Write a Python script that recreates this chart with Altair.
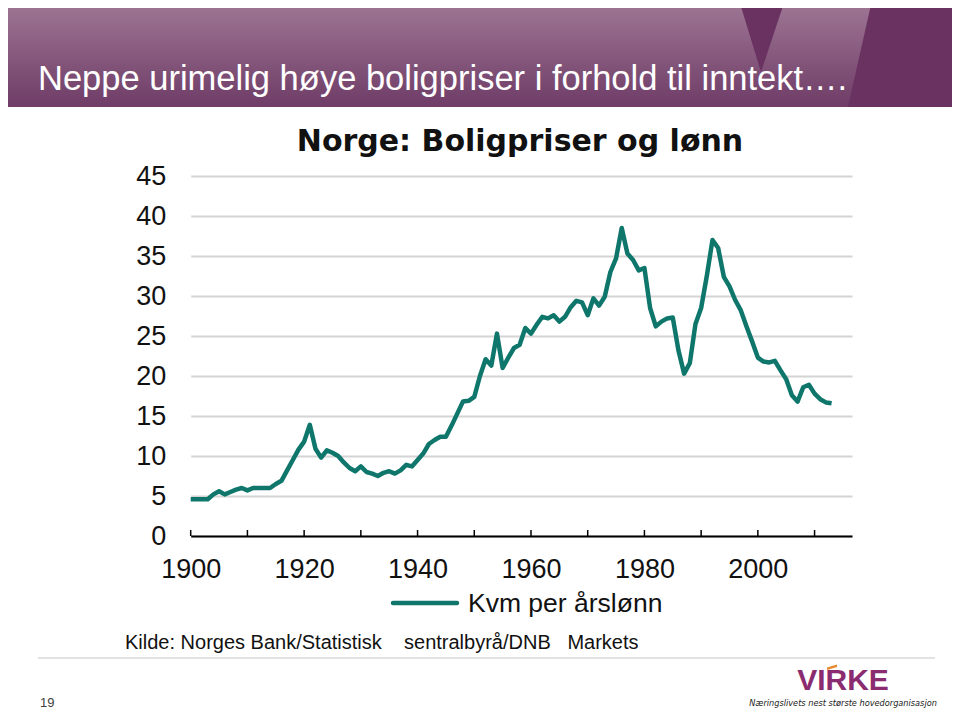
import altair as alt
import pandas as pd

# ---- data ----
years = list(range(1900, 2014))
kvm_per_arslonn = [
    4.6, 4.6, 4.6, 4.6, 5.2, 5.6, 5.2, 5.5, 5.8, 6.0,      # 1900-1909
    5.7, 6.0, 6.0, 6.0, 6.0, 6.5, 6.9, 8.2, 9.5, 10.8,     # 1910-1919
    11.8, 13.9, 10.9, 9.8, 10.7, 10.4, 10.0, 9.2, 8.5, 8.1, # 1920-1929
    8.7, 8.0, 7.8, 7.5, 7.9, 8.1, 7.8, 8.2, 8.9, 8.7,      # 1930-1939
    9.5, 10.3, 11.5, 12.0, 12.4, 12.4, 13.8, 15.3, 16.8, 16.9,  # 1940-1949
    17.4, 20.0, 22.1, 21.3, 25.3, 21.0, 22.3, 23.5, 23.9, 26.0, # 1950-1959
    25.3, 26.4, 27.4, 27.2, 27.6, 26.8, 27.4, 28.6, 29.4, 29.2, # 1960-1969
    27.6, 29.7, 28.8, 29.9, 33.0, 34.7, 38.5, 35.3, 34.5, 33.2, # 1970-1979
    33.5, 28.5, 26.2, 26.8, 27.2, 27.3, 23.2, 20.3, 21.6, 26.5, # 1980-1989
    28.5, 32.5, 37.0, 36.0, 32.4, 31.2, 29.5, 28.2, 26.2, 24.3, # 1990-1999
    22.3, 21.8, 21.7, 21.9, 20.7, 19.6, 17.6, 16.8, 18.6, 18.9, # 2000-2009
    17.8, 17.1, 16.7, 16.6,                                     # 2010-2013
]
x_label_years = [1900, 1920, 1940, 1960, 1980, 2000]
x_tick_years = list(range(1900, 2011, 10))
y_ticks = [0, 5, 10, 15, 20, 25, 30, 35, 40, 45]

slide_title = "Neppe urimelig høye boligpriser i forhold til inntekt…."
chart_title = "Norge: Boligpriser og lønn"
series_name = "Kvm per årslønn"
source_text = "Kilde: Norges Bank/Statistisk\u00a0\u00a0\u00a0 sentralbyrå/DNB\u00a0\u00a0 Markets"
page_number = "19"
logo_text = "VIRKE"
logo_tagline = "Næringslivets nest største hovedorganisasjon"

TEAL = "#0f766c"
FONT = "Liberation Sans"

# plot area geometry (inside a 944x701 chart drawn at page offset 8,8)
PL, PT, PW, PH = 182.7, 168, 661.3, 360


def px(x):  # page x -> plot coords
    return x - (PL + 8)


def py(y):  # page y -> plot coords
    return y - (PT + 8)


df = pd.DataFrame({"year": years, "value": kvm_per_arslonn})
one = pd.DataFrame({"k": [0]})

xscale = alt.Scale(domain=[1900, 2016.6], nice=False, zero=False)
yscale = alt.Scale(domain=[0, 45], nice=False)

line = alt.Chart(df).mark_line(color=TEAL, strokeWidth=4.5, strokeJoin="round").encode(
    x=alt.X("year:Q", scale=xscale,
            axis=alt.Axis(values=x_label_years, format="d", title=None, grid=False,
                          ticks=False, tickSize=0, labelPadding=20, labelFontSize=27,
                          labelFont=FONT, labelColor="#111111", domainColor="#000000",
                          domainWidth=2, zindex=1, labelBaseline="top",
                          labelFlush=False, labelOverlap=False)),
    y=alt.Y("value:Q", scale=yscale,
            axis=alt.Axis(values=y_ticks, title=None, grid=True, gridColor="#d4d4d4",
                          gridWidth=2, domain=False, ticks=False, tickSize=0,
                          labelPadding=25, labelFontSize=27, labelFont=FONT,
                          labelColor="#111111", labelFlush=False, labelOverlap=False)),
)

ticks = alt.Chart(pd.DataFrame({"year": x_tick_years})).mark_rule(
    color="#000000", strokeWidth=1.5
).encode(x=alt.X("year:Q", scale=xscale), y=alt.value(PH), y2=alt.value(PH - 6))

# slide banner
banner = alt.Chart(one).mark_rect(
    color=alt.Gradient(gradient="linear",
                       stops=[alt.GradientStop(color="#9f7895", offset=0),
                              alt.GradientStop(color="#6f3c67", offset=1)],
                       x1=0, x2=0, y1=0, y2=1)
).encode(x=alt.value(px(0)), x2=alt.value(px(960)), y=alt.value(py(0)), y2=alt.value(py(107)))

wedge = alt.Chart(one).mark_point(
    shape="M-0.639,-1 L0.639,-1 L-0.028,1 Z", filled=True, opacity=1, color="#6a3261",
    size=72 * 72, strokeWidth=0
).encode(x=alt.value(px(762)), y=alt.value(py(36)))

right_dark = alt.Chart(one).mark_point(
    shape="M-0.571,-0.955 L1,-0.955 L1,0.955 L-1,0.955 Z", filled=True, opacity=1,
    color="#6a3261", size=112 * 112, strokeWidth=0
).encode(x=alt.value(px(904)), y=alt.value(py(53.5)))

title_txt = alt.Chart(one).mark_text(
    text=slide_title, font=FONT, fontSize=34.5, color="#ffffff",
    align="left", baseline="alphabetic"
).encode(x=alt.value(px(38)), y=alt.value(py(90)))

chart_title_txt = alt.Chart(one).mark_text(
    text=chart_title, font="DejaVu Sans", fontWeight="bold", fontSize=30, color="#111111",
    align="center", baseline="alphabetic"
).encode(x=alt.value(px(520)), y=alt.value(py(151)))

legend_line = alt.Chart(one).mark_rule(color=TEAL, strokeWidth=4.5, strokeCap="round").encode(
    x=alt.value(px(393)), x2=alt.value(px(457)), y=alt.value(py(603)))

legend_txt = alt.Chart(one).mark_text(
    text=series_name, font=FONT, fontSize=26.5, color="#111111", align="left",
    baseline="alphabetic"
).encode(x=alt.value(px(468)), y=alt.value(py(612)))

source_txt = alt.Chart(one).mark_text(
    text=source_text, font=FONT, fontSize=20, color="#111111", align="left",
    baseline="alphabetic"
).encode(x=alt.value(px(125)), y=alt.value(py(649)))

footer_line = alt.Chart(one).mark_rule(color="#d9d9d9", strokeWidth=1.5).encode(
    x=alt.value(px(38)), x2=alt.value(px(935)), y=alt.value(py(658)))

page_txt = alt.Chart(one).mark_text(
    text=page_number, font=FONT, fontSize=13, color="#404040", align="left",
    baseline="middle"
).encode(x=alt.value(px(40)), y=alt.value(py(703)))

logo_txt = alt.Chart(one).mark_text(
    text=logo_text, font=FONT, fontWeight="bold", fontSize=30, color="#8a2c6f",
    align="center", baseline="alphabetic"
).encode(x=alt.value(px(843)), y=alt.value(py(690)))

logo_dot = alt.Chart(one).mark_point(
    shape="M-1,0.3 L1,-0.3 L1,0.2 L-1,0.8 Z", filled=True, opacity=1, color="#e8892b",
    size=100, strokeWidth=0
).encode(x=alt.value(px(832)), y=alt.value(py(666)))

tagline_txt = alt.Chart(one).mark_text(
    text=logo_tagline, font="DejaVu Sans", fontStyle="italic", fontSize=8.2,
    color="#222222", align="center", baseline="middle"
).encode(x=alt.value(px(843)), y=alt.value(py(704)))

tagline_swoosh = alt.Chart(one).mark_rule(color="#8a2c6f", strokeWidth=1.5).encode(
    x=alt.value(px(815)), x2=alt.value(px(858)), y=alt.value(py(711)))

chart = alt.layer(
    banner, wedge, right_dark, title_txt, line, ticks, chart_title_txt, legend_line,
    legend_txt, source_txt, footer_line, page_txt, logo_txt, logo_dot, tagline_txt,
    tagline_swoosh
).properties(
    width=PW, height=PH,
    padding={"left": PL, "top": PT, "right": 944 - PL - PW, "bottom": 701 - PT - PH},
    autosize=alt.AutoSizeParams(type="none"),
    background="#ffffff",
).configure_view(stroke=None)

chart.save("out.html", embed_options={"renderer": "svg", "actions": False})
